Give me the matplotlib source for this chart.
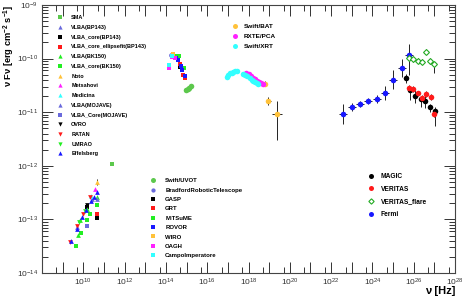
import numpy as np
import matplotlib.pyplot as plt
from matplotlib.ticker import LogLocator, FuncFormatter, NullFormatter

plt.rcParams['font.family'] = ['Liberation Sans', 'DejaVu Sans']
plt.rcParams['mathtext.fontset'] = 'custom'
plt.rcParams['mathtext.rm'] = 'Liberation Sans'
plt.rcParams['mathtext.bf'] = 'Liberation Sans:bold'

# ---- data, log10(nu / Hz) and log10(nuFnu / erg cm^-2 s^-1) ----
# radio
sma_x, sma_y = [11.38], [-11.97]
vlba_bp143_x, vlba_bp143_y = [9.70, 10.40], [-13.15, -12.62]
vlba_core_bp143_x, vlba_core_bp143_y = [10.19, 10.65], [-12.76, -12.97]
vlba_ellip_x, vlba_ellip_y = [10.65], [-12.90]
vlba_bk150_x, vlba_bk150_y = [9.73, 9.84, 10.19, 10.65], [-13.29, -13.01, -12.80, -12.59]
vlba_core_bk150_x, vlba_core_bk150_y = [9.66, 9.90, 10.19, 10.32, 10.65], [-13.50, -13.26, -13.02, -12.89, -12.74]
noto_x, noto_y = [10.64], [-12.30]
mets_x, mets_y = [10.57], [-12.44]
medi_x, medi_y = [10.36], [-12.56]
vlba_moj_x, vlba_moj_y = [10.65], [-12.62]
vlba_core_moj_x, vlba_core_moj_y = [10.16], [-13.12]
ovro_x, ovro_y = [10.18], [-12.74]
ratan_x, ratan_y = [9.36, 9.68, 10.00, 10.32], [-13.43, -13.12, -12.90, -12.59]
umrao_x, umrao_y = [9.80, 10.10], [-13.05, -12.85]
effb_x, effb_y = [9.40, 9.68, 9.92, 10.13, 10.36, 10.52, 10.65], [-13.40, -13.17, -12.95, -12.82, -12.65, -12.58, -12.48]

# optical / UV
uvot_x, uvot_y = [14.97, 15.05, 15.13, 15.22], [-10.59, -10.56, -10.54, -10.51]
brt_x, brt_y = [14.25], [-9.94]
gasp_x, gasp_y = [14.70], [-10.16]
grt_x, grt_y = [14.66, 14.81, 14.92], [-10.10, -10.31, -10.37]
mits_x, mits_y = [14.50, 14.63, 14.89], [-9.95, -9.96, -10.18]
rovor_x, rovor_y = [14.47, 14.60, 14.72, 14.76, 14.92], [-9.98, -10.03, -10.13, -10.21, -10.32]
wiro_x, wiro_y = [14.36], [-9.92]
oagh_x, oagh_y = [14.16, 14.30, 14.44], [-10.17, -9.97, -9.99]
campo_x, campo_y = [14.15, 14.28], [-10.12, -9.95]

# X-ray
bat_x, bat_y = [18.80, 18.96, 19.39], [-10.47, -10.79, -11.03]
bat_xe = [0.10, 0.11, 0.24]
bat_ylo, bat_yhi = [0.05, 0.08, 0.49], [0.05, 0.08, 0.23]
pca_x = [17.88, 18.00, 18.10, 18.20, 18.30, 18.40, 18.50, 18.60, 18.68]
pca_y = [-10.26, -10.29, -10.33, -10.36, -10.38, -10.41, -10.44, -10.46, -10.48]
xrt_x = [16.94, 17.02, 17.10, 17.18, 17.25, 17.34, 17.43, 17.75, 17.84, 17.93, 18.05, 18.16, 18.24, 18.31, 18.39, 18.47]
xrt_y = [-10.35, -10.31, -10.27, -10.26, -10.25, -10.24, -10.24, -10.29, -10.30, -10.32, -10.36, -10.39, -10.41, -10.43, -10.45, -10.47]

# gamma
magic_x = [25.63, 25.82, 26.06, 26.34, 26.55, 26.79, 27.03]
magic_y = [-10.37, -10.59, -10.69, -10.75, -10.80, -10.90, -10.97]
magic_ylo = [0.08, 0.19, 0.13, 0.15, 0.12, 0.10, 0.28]
magic_yhi = [0.08, 0.06, 0.13, 0.06, 0.12, 0.06, 0.06]
ver_x = [25.79, 25.98, 26.21, 26.39, 26.60, 26.82, 27.00]
ver_y = [-10.55, -10.57, -10.65, -10.73, -10.66, -10.72, -11.03]
ver_ye = [0.05, 0.05, 0.05, 0.06, 0.05, 0.06, 0.06]
flare_x = [25.79, 25.98, 26.21, 26.40, 26.60, 26.79, 26.98]
flare_y = [-9.99, -10.01, -10.04, -10.06, -9.87, -10.04, -10.11]
flare_ylo = [0.05, 0.05, 0.05, 0.05, 0.05, 0.06, 0.15]
flare_yhi = [0.05, 0.05, 0.05, 0.05, 0.05, 0.06, 0.05]
fermi_x = [22.59, 23.00, 23.40, 23.80, 24.21, 24.61, 25.01, 25.42, 25.79]
fermi_y = [-11.03, -10.90, -10.85, -10.79, -10.75, -10.65, -10.39, -10.18, -9.93]
fermi_ylo = [0.19, 0.08, 0.06, 0.06, 0.08, 0.13, 0.17, 0.17, 0.38]
fermi_yhi = [0.19, 0.08, 0.06, 0.06, 0.08, 0.13, 0.17, 0.17, 0.20]
fermi_xe = 0.2

GREEN_L = '#5cc84c'
PURPLE = '#6a6adc'
GREEN = '#22ee22'
ORANGE = '#ffc23a'
MAG = '#ff22ff'
CYAN = '#33ffff'
BLUE = '#1818ff'
RED = '#ff1a1a'

fig = plt.figure(figsize=(4.71, 3.04), dpi=100)
ax = fig.add_axes([42 / 471, 31 / 304, 413 / 471, 268 / 304])


def pts(x, y, marker, color, label, ms=3.4, **kw):
    line, = ax.plot(10 ** np.array(x), 10 ** np.array(y), ls='none', marker=marker,
                    color=color, ms=ms, mew=0, label=label, **kw)
    return line


def errs(x, y, ylo, yhi, xe=None):
    x = np.array(x)
    y = np.array(y)
    yv = 10 ** y
    ye = [yv - 10 ** (y - np.array(ylo)), 10 ** (y + np.array(yhi)) - yv]
    xerr = None
    if xe is not None:
        xv = 10 ** x
        xerr = [xv - 10 ** (x - np.array(xe)), 10 ** (x + np.array(xe)) - xv]
    ax.errorbar(10 ** x, yv, yerr=ye, xerr=xerr, fmt='none', ecolor='#222222',
                elinewidth=0.7, capsize=0, zorder=1)


radio = [
    pts(sma_x, sma_y, 's', GREEN_L, 'SMA'),
    pts(vlba_bp143_x, vlba_bp143_y, '^', PURPLE, 'VLBA(BP143)'),
    pts(vlba_core_bp143_x, vlba_core_bp143_y, 's', 'k', 'VLBA_core(BP143)'),
    pts(vlba_ellip_x, vlba_ellip_y, 's', RED, 'VLBA_core_ellipsefit(BP143)'),
    pts(vlba_bk150_x, vlba_bk150_y, '^', GREEN, 'VLBA(BK150)'),
    pts(vlba_core_bk150_x, vlba_core_bk150_y, 's', GREEN, 'VLBA_core(BK150)'),
    pts(noto_x, noto_y, '^', ORANGE, 'Noto'),
    pts(mets_x, mets_y, '^', MAG, 'Metsahovi'),
    pts(medi_x, medi_y, '^', CYAN, 'Medicina'),
    pts(vlba_moj_x, vlba_moj_y, '^', PURPLE, 'VLBA(MOJAVE)'),
    pts(vlba_core_moj_x, vlba_core_moj_y, 's', PURPLE, 'VLBA_Core(MOJAVE)'),
    pts(ovro_x, ovro_y, 'v', 'k', 'OVRO'),
    pts(ratan_x, ratan_y, 'v', RED, 'RATAN'),
    pts(umrao_x, umrao_y, 'v', GREEN, 'UMRAO'),
    pts(effb_x, effb_y, '^', BLUE, 'Effelsberg'),
]
errs(noto_x, noto_y, [0.05], [0.05])

optical = [
    pts(uvot_x, uvot_y, 'o', GREEN_L, 'Swift/UVOT', ms=4),
    pts(brt_x, brt_y, 'o', PURPLE, 'BradfordRoboticTelescope'),
    pts(gasp_x, gasp_y, 's', 'k', 'GASP'),
    pts(grt_x, grt_y, 's', RED, 'GRT'),
    pts(mits_x, mits_y, 's', GREEN, 'MITSuME'),
    pts(rovor_x, rovor_y, 's', BLUE, 'ROVOR'),
    pts(wiro_x, wiro_y, 's', ORANGE, 'WIRO'),
    pts(oagh_x, oagh_y, 's', MAG, 'OAGH'),
    pts(campo_x, campo_y, 's', CYAN, 'CampoImperatore'),
]

errs(bat_x, bat_y, bat_ylo, bat_yhi, bat_xe)
xray = [
    pts(bat_x, bat_y, 'o', ORANGE, 'Swift/BAT', ms=4),
    pts(pca_x, pca_y, 'o', MAG, 'RXTE/PCA', ms=4),
    pts(xrt_x, xrt_y, 'o', CYAN, 'Swift/XRT', ms=4),
]

errs(magic_x, magic_y, magic_ylo, magic_yhi)
errs(ver_x, ver_y, ver_ye, ver_ye)
errs(flare_x, flare_y, flare_ylo, flare_yhi)
errs(fermi_x, fermi_y, fermi_ylo, fermi_yhi, [fermi_xe] * len(fermi_x))
gamma = [
    pts(magic_x, magic_y, 'o', 'k', 'MAGIC', ms=4),
    pts(ver_x, ver_y, 'o', RED, 'VERITAS', ms=4),
    pts(flare_x, flare_y, 'D', '#22aa22', 'VERITAS_flare', ms=3, mfc='white', zorder=3),
    pts(fermi_x, fermi_y, 'o', BLUE, 'Fermi', ms=4),
]
gamma[2].set_markeredgewidth(0.8)

ax.set_xscale('log')
ax.set_yscale('log')
ax.set_xlim(1e8, 1e28)
ax.set_ylim(1e-14, 1e-9)


def xfmt(v, _):
    e = round(np.log10(v))
    if e % 2 == 0 and e > 8:
        return r'$\mathregular{10^{%d}}$' % e
    return ''


ax.xaxis.set_major_locator(LogLocator(base=10, subs=[1.0], numticks=40))
ax.xaxis.set_minor_locator(LogLocator(base=10, subs=[5.0], numticks=40))
ax.xaxis.set_major_formatter(FuncFormatter(xfmt))
ax.xaxis.set_minor_formatter(NullFormatter())
ax.yaxis.set_major_locator(LogLocator(base=10, subs=[1.0], numticks=20))
ax.yaxis.set_minor_locator(LogLocator(base=10, subs=np.arange(2, 10), numticks=20))
ax.yaxis.set_major_formatter(FuncFormatter(lambda v, _: r'$\mathregular{10^{%d}}$' % round(np.log10(v))))
ax.yaxis.set_minor_formatter(NullFormatter())

ax.tick_params(which='both', direction='in', top=True, right=True, width=0.7, colors='#333333',
               labelcolor='#333333', labelsize=6)
ax.tick_params(which='major', length=8, pad=3)
ax.tick_params(which='minor', length=4)
for s in ax.spines.values():
    s.set_linewidth(0.8)
    s.set_color('#444444')

ax.set_ylabel(r'ν Fν [erg cm$^{\mathbf{-2}}$ s$^{\mathbf{-1}}$]', loc='top', fontsize=6.7, fontweight='bold')
ax.yaxis.set_label_coords(-0.061, 1.0)
ax.set_xlabel('ν [Hz]', loc='right', fontsize=8, fontweight='bold')
ax.xaxis.set_label_coords(1.0, -0.05)

leg_kw = dict(frameon=False, borderpad=0, handlelength=1.0, handletextpad=1.45,
              prop={'weight': 'bold', 'size': 4.0}, markerscale=0.9)
l1 = ax.legend(handles=radio, loc='upper left', bbox_to_anchor=(0.031, 0.972),
               labelspacing=0.85, **leg_kw)
ax.add_artist(l1)
kw2 = dict(leg_kw, prop={'weight': 'bold', 'size': 4.3}, handletextpad=1.5)
l2 = ax.legend(handles=optical, loc='upper left', bbox_to_anchor=(0.255, 0.365),
               labelspacing=0.70, **kw2)
ax.add_artist(l2)
kw3 = dict(leg_kw, prop={'weight': 'bold', 'size': 4.6}, handletextpad=0.9)
l3 = ax.legend(handles=xray, loc='upper left', bbox_to_anchor=(0.452, 0.943),
               labelspacing=0.70, **kw3)
ax.add_artist(l3)
kw4 = dict(leg_kw, prop={'weight': 'bold', 'size': 4.8}, handletextpad=1.0)
ax.legend(handles=gamma, loc='upper left', bbox_to_anchor=(0.78, 0.385),
          labelspacing=0.84, **kw4)

fig.savefig('out.png', dpi=100)
